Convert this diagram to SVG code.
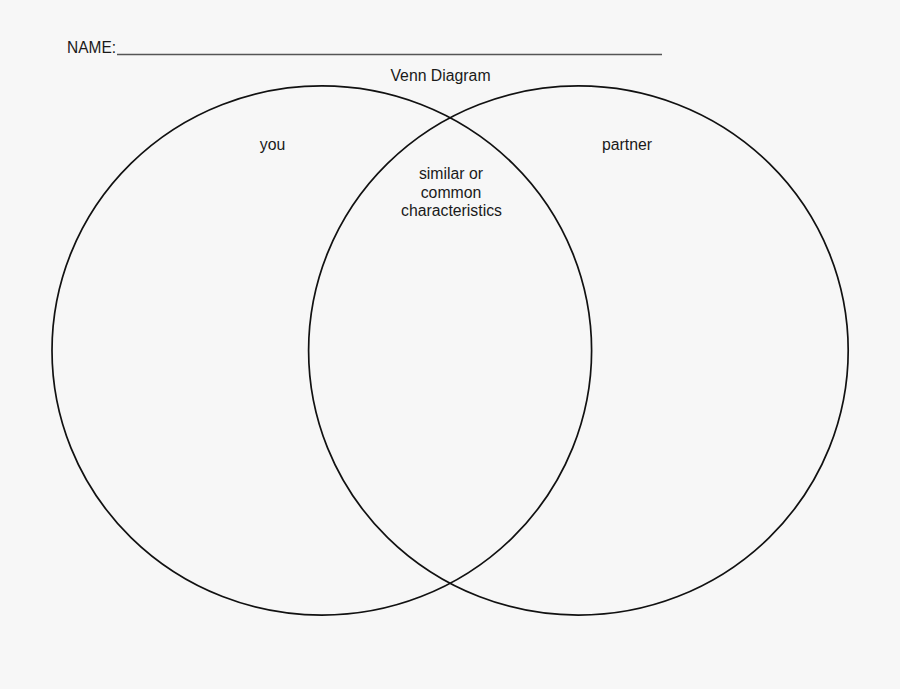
<svg xmlns="http://www.w3.org/2000/svg" width="900" height="689" viewBox="0 0 900 689">
<style>
.t{font-family:"Liberation Sans",Arial,sans-serif;font-size:15.8px;fill:#1a1a1a}
.c{fill:none;stroke:#111;stroke-width:1.7}
</style>
<rect width="900" height="689" fill="#f7f7f7"/>
<g id="header">
<text class="t" x="67" y="53" textLength="49" lengthAdjust="spacingAndGlyphs">NAME:</text>
<line x1="117" y1="54.5" x2="662" y2="54.5" stroke="#555" stroke-width="1.5"/>
<text class="t" x="440.5" y="80.5" text-anchor="middle">Venn Diagram</text>
</g>
<g id="you">
<ellipse class="c" cx="321.8" cy="350.5" rx="269.8" ry="264.6"/>
<text class="t" x="272.5" y="150" text-anchor="middle">you</text>
</g>
<g id="partner">
<ellipse class="c" cx="578.4" cy="350.5" rx="269.8" ry="264.6"/>
<text class="t" x="627" y="150" text-anchor="middle">partner</text>
</g>
<g id="common">
<text class="t" text-anchor="middle"><tspan x="451" y="179">similar or</tspan><tspan x="451" y="197.5">common</tspan><tspan x="451.5" y="216">characteristics</tspan></text>
</g>
<g id="connectors"></g>
</svg>
